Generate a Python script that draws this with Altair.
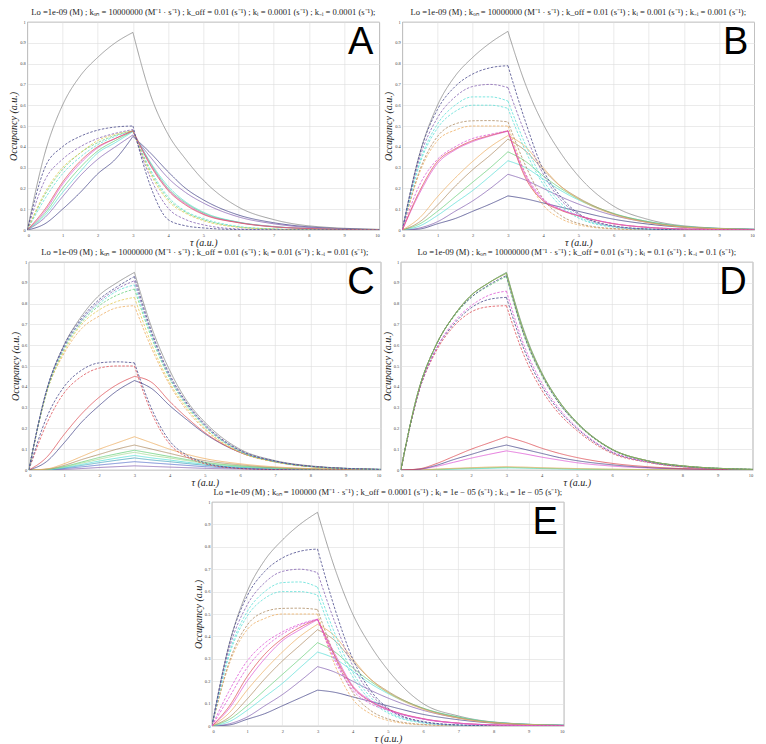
import altair as alt
import pandas as pd

# ---------------- shared abscissa ----------------
X = [0, 0.5, 1, 1.5, 2, 2.5, 3, 3.5, 4, 4.5, 5, 6, 7, 8, 10]

# ---------------- panel A ----------------
A_gray_solid = [0, .37, .60, .74, .83, .90, .95, .65, .46, .34, .24, .11, .05, .02, .003]
A_navy_dash1 = [0, .30, .40, .45, .48, .495, .50, .21, .05, .02, .01, .002, 0, 0, 0]
A_purple_dash2 = [0, .24, .34, .40, .44, .465, .483, .25, .105, .05, .025, .005, .001, 0, 0]
A_yellow_dash = [0, .18, .30, .37, .43, .46, .477, .27, .14, .08, .045, .013, .004, .001, 0]
A_green_dash = [0, .17, .29, .37, .42, .455, .477, .28, .15, .085, .05, .015, .005, .001, 0]
A_cyan_dash = [0, .15, .27, .35, .41, .45, .477, .29, .16, .09, .055, .017, .005, .001, 0]
A_red_solid = [0, .10, .23, .33, .40, .44, .477, .31, .19, .12, .075, .035, .015, .007, .001]
A_magenta_solid = [0, .09, .22, .32, .395, .44, .476, .315, .195, .125, .078, .036, .016, .007, .001]
A_green_solid = [0, .08, .20, .30, .38, .43, .475, .32, .20, .13, .082, .037, .016, .007, .001]
A_cyan_solid = [0, .07, .18, .28, .37, .42, .473, .325, .21, .135, .086, .038, .017, .007, .001]
A_purple_solid = [0, .06, .16, .26, .34, .40, .457, .35, .25, .18, .13, .063, .03, .012, .001]
A_navy_solid = [0, .03, .10, .18, .27, .34, .45, .37, .28, .20, .145, .072, .035, .015, .002]

# ---------------- panel B ----------------
B_gray_solid = [0, .37, .60, .74, .83, .90, .955, .70, .51, .37, .26, .115, .05, .02, .003]
B_navy_dash = [0, .37, .58, .69, .75, .78, .79, .52, .29, .16, .08, .02, .005, .001, 0]
B_purple_dash = [0, .35, .54, .64, .69, .70, .685, .46, .27, .145, .075, .018, .004, .001, 0]
B_cyan_dash1 = [0, .33, .51, .60, .64, .64, .62, .41, .24, .13, .065, .016, .004, .001, 0]
B_cyan_dash2 = [0, .32, .49, .57, .60, .60, .585, .38, .22, .115, .058, .014, .003, .001, 0]
B_orange_dash1 = [0, .29, .45, .51, .525, .526, .52, .31, .15, .07, .032, .007, .002, 0, 0]
B_orange_dash2 = [0, .28, .43, .48, .50, .50, .50, .27, .12, .055, .025, .005, .001, 0, 0]
B_magenta_dash = [0, .22, .34, .40, .44, .46, .477, .27, .15, .10, .07, .03, .012, .005, 0]
B_red_solid = [0, .19, .33, .39, .43, .455, .477, .25, .14, .095, .068, .03, .012, .005, .001]
B_magenta_solid = [0, .18, .32, .385, .425, .452, .475, .26, .145, .098, .07, .031, .013, .005, .001]
B_orange_solid = [0, .06, .16, .25, .33, .40, .454, .40, .30, .21, .15, .075, .035, .014, .002]
B_brown_solid = [0, .04, .12, .21, .29, .36, .437, .38, .29, .21, .155, .078, .037, .015, .002]
B_green_solid = [0, .03, .09, .16, .23, .30, .376, .33, .26, .20, .15, .08, .04, .017, .003]
B_cyan_solid = [0, .02, .07, .13, .19, .26, .333, .30, .245, .19, .145, .078, .04, .017, .003]
B_purple_solid = [0, .01, .04, .09, .14, .20, .268, .24, .20, .16, .125, .07, .036, .016, .003]
B_navy_solid = [0, .005, .03, .055, .09, .125, .164, .15, .13, .11, .09, .052, .028, .013, .003]

# ---------------- panel C ----------------
C_gray_solid = [0, .38, .60, .74, .84, .90, .95, .68, .48, .33, .23, .10, .045, .02, .003]
C_navy_dash = [0, .38, .60, .73, .82, .88, .93, .66, .46, .32, .22, .095, .043, .018, .003]
C_purple_dash = [0, .38, .59, .72, .81, .87, .91, .65, .45, .315, .215, .093, .042, .018, .003]
C_cyan_dash = [0, .38, .59, .72, .80, .86, .89, .64, .445, .31, .21, .09, .041, .017, .003]
C_green_dash = [0, .37, .58, .71, .79, .84, .87, .63, .44, .305, .21, .09, .04, .017, .003]
C_orange_dash1 = [0, .37, .57, .70, .77, .81, .83, .60, .42, .295, .20, .087, .039, .016, .002]
C_orange_dash2 = [0, .37, .56, .68, .74, .78, .79, .58, .41, .285, .195, .085, .038, .016, .002]
C_navy_dash_low = [0, .25, .40, .48, .515, .52, .515, .29, .14, .07, .035, .008, .002, 0, 0]
C_red_dash_low = [0, .22, .37, .45, .49, .50, .50, .27, .125, .062, .03, .007, .002, 0, 0]
C_red_solid = [0, .06, .17, .27, .35, .41, .45, .42, .33, .25, .18, .085, .04, .017, .002]
C_navy_solid = [0, .04, .13, .23, .31, .38, .43, .39, .31, .24, .175, .085, .04, .017, .002]
C_orange_small = [0, .005, .03, .065, .10, .13, .16, .13, .10, .075, .055, .03, .015, .007, .001]
C_brown_small = [0, .004, .022, .05, .075, .10, .12, .10, .08, .06, .045, .025, .012, .006, .001]
C_green_small = [0, .003, .017, .038, .06, .078, .095, .08, .065, .05, .037, .02, .01, .005, .001]
C_lgreen_small = [0, .003, .015, .033, .052, .07, .085, .07, .058, .045, .033, .018, .009, .004, .001]
C_cyan_small = [0, .002, .012, .027, .043, .057, .07, .058, .048, .037, .028, .015, .008, .004, .001]
C_teal_small = [0, .002, .01, .022, .035, .047, .058, .048, .04, .031, .023, .013, .007, .003, 0]
C_blue_small = [0, .001, .007, .015, .024, .032, .04, .034, .028, .022, .016, .009, .005, .002, 0]
C_purple_small = [0, .001, .003, .007, .012, .016, .02, .017, .014, .011, .008, .005, .002, .001, 0]

# ---------------- panel D ----------------
D_gray_solid = [0, .38, .60, .74, .84, .90, .95, .67, .47, .33, .23, .10, .045, .02, .003]
D_green_solid = [0, .38, .60, .74, .84, .90, .948, .665, .468, .33, .23, .10, .045, .02, .003]
D_olive_solid = [0, .38, .60, .74, .84, .90, .945, .66, .465, .328, .228, .10, .045, .02, .003]
D_navy_dash_top = [0, .38, .60, .74, .83, .89, .935, .65, .46, .32, .225, .098, .044, .019, .003]
D_green_dash_top = [0, .38, .60, .735, .83, .885, .93, .645, .455, .32, .223, .097, .044, .019, .003]
D_magenta_dash = [0, .37, .58, .71, .79, .84, .86, .60, .42, .295, .205, .088, .04, .017, .002]
D_navy_dash = [0, .37, .58, .70, .78, .82, .83, .58, .405, .285, .20, .085, .039, .016, .002]
D_red_dash = [0, .37, .57, .69, .76, .785, .79, .55, .385, .27, .19, .08, .037, .015, .002]
D_red_small = [0, .005, .03, .065, .10, .13, .16, .135, .105, .08, .06, .032, .016, .007, .001]
D_navy_small = [0, .004, .022, .05, .075, .10, .12, .10, .08, .06, .045, .025, .012, .006, .001]
D_magenta_small = [0, .003, .017, .037, .057, .075, .092, .078, .062, .048, .035, .019, .01, .005, .001]
D_orange_tiny = [0, .001, .004, .008, .011, .014, .016, .014, .011, .009, .007, .004, .002, .001, 0]
D_green_tiny = [0, .001, .003, .006, .009, .011, .013, .011, .009, .007, .005, .003, .002, .001, 0]
D_cyan_tiny = [0, 0, .002, .004, .006, .008, .01, .009, .007, .005, .004, .002, .001, 0, 0]

# ---------------- panel E ----------------
E_gray_solid = [0, .37, .60, .74, .83, .90, .954, .70, .50, .36, .25, .10, .045, .018, .003]
E_navy_dash = [0, .37, .58, .69, .75, .78, .79, .52, .30, .16, .08, .02, .005, .001, 0]
E_purple_dash = [0, .35, .54, .64, .69, .70, .685, .46, .27, .145, .075, .018, .004, .001, 0]
E_cyan_dash1 = [0, .33, .51, .60, .64, .643, .62, .41, .24, .13, .065, .016, .004, .001, 0]
E_cyan_dash2 = [0, .32, .49, .57, .60, .60, .585, .38, .22, .115, .058, .014, .003, .001, 0]
E_orange_dash1 = [0, .29, .45, .51, .525, .526, .52, .31, .15, .07, .032, .007, .002, 0, 0]
E_orange_dash2 = [0, .28, .43, .48, .50, .50, .50, .27, .12, .055, .025, .005, .001, 0, 0]
E_magenta_dash = [0, .16, .29, .37, .42, .455, .477, .29, .16, .10, .07, .03, .012, .005, 0]
E_magenta_dash2 = [0, .13, .26, .35, .41, .45, .476, .30, .17, .11, .072, .031, .012, .005, 0]
E_red_solid = [0, .09, .22, .32, .39, .44, .477, .31, .175, .11, .074, .032, .013, .005, .001]
E_magenta_solid = [0, .08, .20, .30, .38, .43, .475, .32, .18, .115, .076, .033, .013, .005, .001]
E_orange_solid = [0, .06, .16, .25, .33, .40, .454, .40, .30, .21, .15, .075, .035, .014, .002]
E_brown_solid = [0, .04, .12, .21, .29, .36, .43, .38, .29, .21, .155, .078, .037, .015, .002]
E_green_solid = [0, .03, .09, .16, .23, .30, .372, .33, .26, .20, .15, .08, .04, .017, .003]
E_cyan_solid = [0, .02, .07, .13, .19, .26, .33, .30, .245, .19, .145, .078, .04, .017, .003]
E_purple_solid = [0, .01, .04, .09, .14, .20, .265, .24, .20, .16, .125, .07, .036, .016, .003]
E_navy_solid = [0, .005, .03, .055, .09, .125, .16, .15, .13, .11, .09, .052, .028, .013, .003]

# ---------------- titles ----------------
TITLE_A = "Lo =1e-09 (M) ; kₒₙ  = 10000000 (M⁻¹ · s⁻¹) ; k_off  =  0.01 (s⁻¹) ; kᵢ  =  0.0001 (s⁻¹) ; k₋ᵢ  =  0.0001 (s⁻¹);"
TITLE_B = "Lo =1e-09 (M) ; kₒₙ  = 10000000 (M⁻¹ · s⁻¹) ; k_off  =  0.01 (s⁻¹) ; kᵢ  =  0.001 (s⁻¹) ; k₋ᵢ  =  0.001 (s⁻¹);"
TITLE_C = "Lo =1e-09 (M) ; kₒₙ  = 10000000 (M⁻¹ · s⁻¹) ; k_off  =  0.01 (s⁻¹) ; kᵢ  =  0.01 (s⁻¹) ; k₋ᵢ  =  0.01 (s⁻¹);"
TITLE_D = "Lo =1e-09 (M) ; kₒₙ  = 10000000 (M⁻¹ · s⁻¹) ; k_off  =  0.01 (s⁻¹) ; kᵢ  =  0.1 (s⁻¹) ; k₋ᵢ  =  0.1 (s⁻¹);"
TITLE_E = "Lo =1e-09 (M) ; kₒₙ  = 100000 (M⁻¹ · s⁻¹) ; k_off  =  0.0001 (s⁻¹) ; kᵢ  =  1e − 05 (s⁻¹) ; k₋ᵢ  =  1e − 05 (s⁻¹);"

COL = {
    "gray": "#8a8a8a", "navy": "#4a4a8c", "purple": "#8866b4", "magenta": "#de5cd6",
    "red": "#de5058", "orange": "#eeb066", "brown": "#b08e66", "green": "#6cd07e",
    "lgreen": "#a8dc98", "cyan": "#5fe0d8", "teal": "#4aa6c0", "blue": "#5a74cc",
    "olive": "#94a04c", "yellow": "#e6cc58",
}

PANEL_A = [
    ("gray", "s", A_gray_solid), ("navy", "s", A_navy_solid), ("purple", "s", A_purple_solid),
    ("cyan", "s", A_cyan_solid), ("green", "s", A_green_solid), ("magenta", "s", A_magenta_solid),
    ("cyan", "d", A_cyan_dash), ("green", "d", A_green_dash), ("yellow", "d", A_yellow_dash),
    ("red", "s", A_red_solid), ("purple", "d", A_purple_dash2), ("navy", "d", A_navy_dash1),
]
PANEL_B = [
    ("gray", "s", B_gray_solid), ("navy", "s", B_navy_solid), ("purple", "s", B_purple_solid),
    ("cyan", "s", B_cyan_solid), ("green", "s", B_green_solid), ("brown", "s", B_brown_solid),
    ("orange", "s", B_orange_solid), ("orange", "d", B_orange_dash2), ("brown", "d", B_orange_dash1),
    ("cyan", "d", B_cyan_dash2), ("cyan", "d", B_cyan_dash1), ("purple", "d", B_purple_dash),
    ("navy", "d", B_navy_dash), ("magenta", "s", B_magenta_solid), ("red", "s", B_red_solid),
    ("magenta", "d", B_magenta_dash),
]
PANEL_C = [
    ("gray", "s", C_gray_solid), ("purple", "s", C_purple_small), ("blue", "s", C_blue_small),
    ("teal", "s", C_teal_small), ("cyan", "s", C_cyan_small), ("lgreen", "s", C_lgreen_small),
    ("green", "s", C_green_small), ("brown", "s", C_brown_small), ("orange", "s", C_orange_small),
    ("navy", "s", C_navy_solid), ("red", "s", C_red_solid), ("red", "d", C_red_dash_low),
    ("navy", "d", C_navy_dash_low), ("orange", "d", C_orange_dash2), ("yellow", "d", C_orange_dash1),
    ("green", "d", C_green_dash), ("cyan", "d", C_cyan_dash), ("purple", "d", C_purple_dash),
    ("navy", "d", C_navy_dash),
]
PANEL_D = [
    ("cyan", "s", D_cyan_tiny), ("green", "s", D_green_tiny), ("orange", "s", D_orange_tiny),
    ("magenta", "s", D_magenta_small), ("navy", "s", D_navy_small), ("red", "s", D_red_small),
    ("red", "d", D_red_dash), ("navy", "d", D_navy_dash), ("magenta", "d", D_magenta_dash),
    ("gray", "s", D_gray_solid), ("green", "d", D_green_dash_top), ("navy", "d", D_navy_dash_top),
    ("green", "s", D_green_solid), ("olive", "s", D_olive_solid),
]
PANEL_E = [
    ("gray", "s", E_gray_solid), ("navy", "s", E_navy_solid), ("purple", "s", E_purple_solid),
    ("cyan", "s", E_cyan_solid), ("green", "s", E_green_solid), ("brown", "s", E_brown_solid),
    ("orange", "s", E_orange_solid), ("orange", "d", E_orange_dash2), ("brown", "d", E_orange_dash1),
    ("cyan", "d", E_cyan_dash2), ("cyan", "d", E_cyan_dash1), ("purple", "d", E_purple_dash),
    ("navy", "d", E_navy_dash), ("magenta", "s", E_magenta_solid), ("red", "s", E_red_solid),
    ("magenta", "d", E_magenta_dash2), ("magenta", "d", E_magenta_dash),
]

SERIF = "Liberation Serif"


def panel(spec, letter, title, w, h):
    rows = []
    for k, (ckey, dash, vals) in enumerate(spec):
        for x, y in zip(X, vals):
            if x <= 3:
                rows.append({"x": x, "y": y, "key": f"{k}r", "order": k, "c": COL[ckey], "dash": dash})
            if x >= 3:
                rows.append({"x": x, "y": y, "key": f"{k}f", "order": k, "c": COL[ckey], "dash": dash})
    df = pd.DataFrame(rows)
    lines = alt.Chart(df).mark_line(strokeWidth=0.8, interpolate="monotone", clip=True).encode(
        x=alt.X("x:Q", scale=alt.Scale(domain=[0, 10], nice=False),
                axis=alt.Axis(values=list(range(11)), title="τ (a.u.)", format="d")),
        y=alt.Y("y:Q", scale=alt.Scale(domain=[0, 1], nice=False),
                axis=alt.Axis(values=[i / 10 for i in range(11)], title="Occupancy (a.u.)", format="~g")),
        detail="key:N",
        order="order:Q",
        color=alt.Color("c:N", scale=None),
        strokeDash=alt.StrokeDash("dash:N", scale=alt.Scale(domain=["s", "d"], range=[[1, 0], [2.5, 1.5]]), legend=None),
    )
    lab = alt.Chart(pd.DataFrame({"t": [letter]})).mark_text(
        font="Liberation Sans", fontSize=38, align="right", baseline="top", color="black"
    ).encode(text="t:N", x=alt.value(w - 6), y=alt.value(2))
    return alt.layer(lines, lab).properties(width=w, height=h, title=title)


W = 352
H = 208
HE = 224
pA = panel(PANEL_A, "A", TITLE_A, W, H)
pB = panel(PANEL_B, "B", TITLE_B, W, H)
pC = panel(PANEL_C, "C", TITLE_C, W, H)
pD = panel(PANEL_D, "D", TITLE_D, W, H)
pE = panel(PANEL_E, "E", TITLE_E, W, HE)

chart = alt.vconcat(
    alt.hconcat(pA, pB, spacing=0),
    alt.hconcat(pC, pD, spacing=0),
    pE,
    spacing=0,
    center=True,
).properties(
    padding={"left": 0, "top": 0, "right": 0, "bottom": 0}, background="white"
).configure_view(
    stroke="#8a8a8a", strokeWidth=0.7
).configure_axis(
    grid=True, gridColor="#dedede", gridWidth=0.6, domain=False, ticks=False,
    labelFontSize=4.5, labelColor="#444", labelPadding=2, labelFont=SERIF,
    titleFont=SERIF, titleFontStyle="italic", titleFontWeight="normal", titleFontSize=10,
    titlePadding=1, titleColor="#222",
).configure_title(
    font=SERIF, fontSize=8.6, fontWeight="normal", offset=2, color="#222"
)

chart.save("out.html", embed_options={"renderer": "svg", "actions": False})
